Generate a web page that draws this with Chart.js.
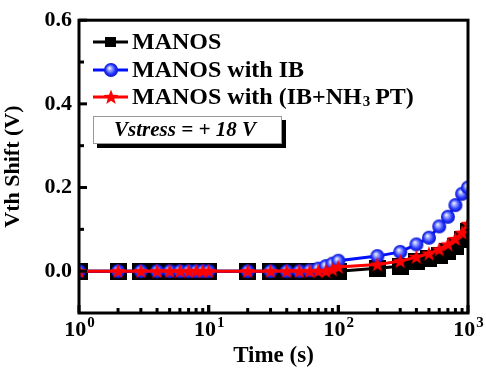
<!DOCTYPE html>
<html>
<head>
<meta charset="utf-8">
<script src="https://cdn.jsdelivr.net/npm/chart.js@4.4.1/dist/chart.umd.min.js"></script>
<style>
  html, body { margin: 0; padding: 0; background: #fff; }
  #wrap { width: 486px; height: 370px; position: relative; }
</style>
</head>
<body>
<div id="wrap"><canvas id="vthChart" width="486" height="370"></canvas></div>
<script>
// stress time (s)
const times = [1, 2, 3, 4, 5, 6, 7, 8, 9, 10, 20, 30, 40, 50, 60, 70, 80, 90, 100,
    200, 300, 400, 500, 600, 700, 800, 900, 1000];
// Vth shift (V)
const manos = [0, 0, 0, 0, 0, 0, 0, 0, 0, 0, 0, 0, 0, 0, 0, 0, 0, 0, 0,
    0.007, 0.012, 0.022, 0.030, 0.038, 0.048, 0.060, 0.076, 0.096];
const manosIB = [0, 0, 0, 0, 0, 0, 0, 0, 0, 0, 0, 0, 0, 0, 0.002, 0.006, 0.012, 0.018, 0.025,
    0.036, 0.046, 0.064, 0.080, 0.107, 0.130, 0.158, 0.185, 0.200];
const manosIBNH3 = [0, 0, 0, 0, 0, 0, 0, 0, 0, 0, 0, 0, 0, 0, 0, 0, 0, 0.004, 0.010,
    0.016, 0.024, 0.034, 0.042, 0.052, 0.064, 0.077, 0.092, 0.113];

const yMajorTicks = [0, 0.2, 0.4, 0.6];
const yMinorTicks = [0.1, 0.3, 0.5];
const xMajorTicks = [1, 10, 100, 1000];
const xExponents = ['0', '1', '2', '3'];

const SERIF = '"Liberation Serif", "DejaVu Serif", serif';

// square marker
function makeSquare(s) {
    const c = document.createElement('canvas');
    c.width = c.height = s;
    const g = c.getContext('2d');
    g.fillStyle = '#000';
    g.fillRect(0, 0, s, s);
    return c;
}

// sphere marker
function makeSphere(r) {
    const c = document.createElement('canvas');
    c.width = c.height = r * 2 + 2;
    const g = c.getContext('2d');
    const cx = r + 1, cy = r + 1;
    const grad = g.createRadialGradient(cx - r * 0.25, cy - r * 0.3, 0, cx, cy, r);
    grad.addColorStop(0, '#ffffff');
    grad.addColorStop(0.3, '#9aa6ff');
    grad.addColorStop(0.7, '#2233ff');
    grad.addColorStop(1, '#0a14c8');
    g.fillStyle = grad;
    g.beginPath();
    g.arc(cx, cy, r, 0, Math.PI * 2);
    g.fill();
    return c;
}

// filled star marker
function makeStar(R) {
    const c = document.createElement('canvas');
    c.width = c.height = R * 2 + 2;
    const g = c.getContext('2d');
    const cx = R + 1, cy = R + 1.5, r = R * 0.42;
    g.fillStyle = '#ff0000';
    g.beginPath();
    for (let i = 0; i < 10; i++) {
        const rad = i % 2 === 0 ? R : r;
        const a = -Math.PI / 2 + i * Math.PI / 5;
        const px = cx + rad * Math.cos(a), py = cy + rad * Math.sin(a);
        if (i === 0) g.moveTo(px, py); else g.lineTo(px, py);
    }
    g.closePath();
    g.fill();
    return c;
}

const squareImg = makeSquare(17);
const sphereImg = makeSphere(7);
const starImg = makeStar(8);

const mkPoints = ys => times.map((t, i) => ({ x: t, y: ys[i] }));

const framePlugin = {
    id: 'frame',
    afterDraw(chart) {
        const ctx = chart.ctx;
        const a = chart.chartArea;
        const xs = chart.scales.x, ys = chart.scales.y;
        ctx.save();
        ctx.strokeStyle = '#000';
        ctx.lineWidth = 3;
        ctx.strokeRect(a.left, a.top, a.right - a.left, a.bottom - a.top);

        // y ticks inward
        yMajorTicks.forEach(v => {
            const py = ys.getPixelForValue(v);
            ctx.beginPath(); ctx.moveTo(a.left, py); ctx.lineTo(a.left + 8, py); ctx.stroke();
        });
        yMinorTicks.forEach(v => {
            const py = ys.getPixelForValue(v);
            ctx.beginPath(); ctx.moveTo(a.left, py); ctx.lineTo(a.left + 5, py); ctx.stroke();
        });

        // x ticks inward (log decades)
        for (let d = 1; d < 1000; d *= 10) {
            for (let m = 1; m <= 10; m++) {
                const px = xs.getPixelForValue(d * m);
                const len = (m === 1 || m === 10) ? 8 : 5;
                ctx.beginPath(); ctx.moveTo(px, a.bottom); ctx.lineTo(px, a.bottom - len); ctx.stroke();
            }
        }

        // x tick labels 10^n
        ctx.fillStyle = '#000';
        ctx.textBaseline = 'alphabetic';
        ctx.textAlign = 'left';
        xMajorTicks.forEach((v, i) => {
            const px = xs.getPixelForValue(v);
            ctx.font = 'bold 22px ' + SERIF;
            const w1 = ctx.measureText('10').width;
            ctx.font = 'bold 15px ' + SERIF;
            const w2 = ctx.measureText(xExponents[i]).width;
            const x0 = px - (w1 + w2) / 2;
            ctx.font = 'bold 22px ' + SERIF;
            ctx.fillText('10', x0, 336);
            ctx.font = 'bold 15px ' + SERIF;
            ctx.fillText(xExponents[i], x0 + w1 + 1, 327);
        });

        // legend
        const rows = [
            { y: 42, color: '#000', img: squareImg, text: 'MANOS', small: true },
            { y: 70, color: '#0010ff', img: sphereImg, text: 'MANOS with IB' },
            { y: 97, color: '#ff0000', img: starImg, text: null }
        ];
        rows.forEach(r => {
            ctx.strokeStyle = r.color;
            ctx.lineWidth = 3;
            ctx.beginPath(); ctx.moveTo(93, r.y); ctx.lineTo(128, r.y); ctx.stroke();
            if (r.small) {
                ctx.fillStyle = '#000';
                ctx.fillRect(105, r.y - 5, 11, 10);
            } else {
                ctx.drawImage(r.img, 111 - r.img.width / 2, r.y - r.img.height / 2);
            }
            ctx.fillStyle = '#000';
            ctx.textAlign = 'left';
            ctx.textBaseline = 'middle';
            ctx.font = 'bold 24px ' + SERIF;
            if (r.text) {
                ctx.fillText(r.text, 132, r.y + 1);
            } else {
                let x = 132;
                const p1 = 'MANOS with (IB+NH';
                ctx.fillText(p1, x, r.y + 1);
                x += ctx.measureText(p1).width;
                ctx.font = 'bold 15px ' + SERIF;
                ctx.fillText('3', x + 1, r.y + 5);
                x += ctx.measureText('3').width + 6;
                ctx.font = 'bold 24px ' + SERIF;
                ctx.fillText('PT)', x, r.y + 1);
            }
        });

        // Vstress box with shadow
        ctx.fillStyle = '#000';
        ctx.fillRect(97, 120, 189, 28);
        ctx.fillStyle = '#fff';
        ctx.fillRect(93, 116, 189, 28);
        ctx.strokeStyle = '#999';
        ctx.lineWidth = 1;
        ctx.strokeRect(93.5, 116.5, 188, 27);
        ctx.fillStyle = '#000';
        ctx.font = 'italic bold 21px ' + SERIF;
        ctx.textAlign = 'center';
        ctx.textBaseline = 'middle';
        ctx.fillText('Vstress = + 18 V', 185, 131);
        ctx.restore();
    }
};

const ctx = document.getElementById('vthChart').getContext('2d');
new Chart(ctx, {
    type: 'line',
    data: {
        datasets: [{
            label: 'MANOS',
            data: mkPoints(manos),
            borderColor: '#000',
            backgroundColor: '#000',
            borderWidth: 3,
            pointStyle: squareImg,
            order: 2,
            clip: 0
        }, {
            label: 'MANOS with IB',
            data: mkPoints(manosIB),
            borderColor: '#0010ff',
            backgroundColor: '#0010ff',
            borderWidth: 3,
            pointStyle: sphereImg,
            order: 1,
            clip: 0
        }, {
            label: 'MANOS with (IB+NH3 PT)',
            data: mkPoints(manosIBNH3),
            borderColor: '#ff0000',
            backgroundColor: '#ff0000',
            borderWidth: 3,
            pointStyle: starImg,
            order: 0,
            clip: 0
        }]
    },
    options: {
        responsive: false,
        animation: false,
        events: [],
        layout: { padding: { left: 0, top: 17, right: 18, bottom: 0 } },
        plugins: {
            legend: { display: false },
            tooltip: { enabled: false }
        },
        elements: { line: { tension: 0 } },
        scales: {
            x: {
                type: 'logarithmic',
                min: 1,
                max: 1000,
                grid: { display: false, drawTicks: false },
                border: { display: false },
                ticks: { display: false },
                title: {
                    display: true,
                    text: 'Time (s)',
                    color: '#000',
                    font: { family: SERIF, size: 23, weight: 'bold' },
                    padding: { top: 28, bottom: 0 }
                },
                afterFit(scale) { scale.height = 57; }
            },
            y: {
                min: -0.1,
                max: 0.6,
                grid: { display: false, drawTicks: false },
                border: { display: false },
                afterBuildTicks(scale) { scale.ticks = yMajorTicks.map(v => ({ value: v })); },
                ticks: {
                    color: '#000',
                    padding: 7,
                    font: { family: SERIF, size: 22, weight: 'bold' },
                    callback: v => v.toFixed(1)
                },
                title: {
                    display: true,
                    text: 'Vth Shift (V)',
                    color: '#000',
                    font: { family: SERIF, size: 22, weight: 'bold' },
                    padding: { top: 0, bottom: 4 }
                },
                afterFit(scale) { scale.width = 79; }
            }
        }
    },
    plugins: [framePlugin]
});
</script>
</body>
</html>
